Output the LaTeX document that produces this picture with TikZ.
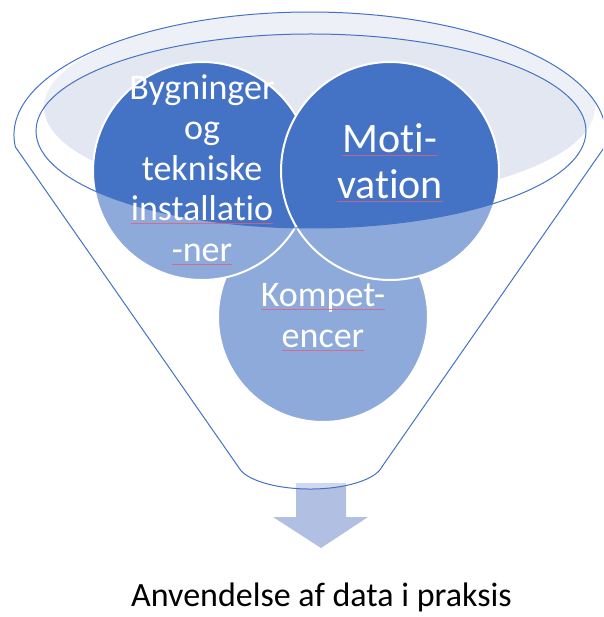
\documentclass[tikz,border=0pt]{standalone}
\usepackage{fontspec}
\setmainfont{Carlito}[Ligatures=NoCommon]
\definecolor{accent}{HTML}{4472C4}
\definecolor{rimfill}{HTML}{E2E7F2}
\definecolor{arrowfill}{HTML}{B0BFE2}
\definecolor{spellc}{HTML}{E0607A}
\begin{document}
\begin{tikzpicture}[x=1pt, y=-1pt,
  funnel/.style={insert path={(15.4,147) arc[start angle=174.4, end angle=365.6, x radius=296, y radius=123]
      -- (382,466.7) arc[start angle=10, end angle=170, x radius=73, y radius=27] -- cycle}},
  disc/.style={circle, fill=accent, draw=white, line width=2pt, minimum size=218pt, inner sep=0pt},
  rimline/.style={draw=accent, line width=1pt},
  word/.style={text=white, inner sep=0pt, anchor=base},
  wordL/.style={font=\fontsize{36}{40}\selectfont},
  wordM/.style={font=\fontsize{42}{46}\selectfont},
  spellmark/.style={draw=spellc, line width=0.8pt, draw opacity=0.8},
]
\useasboundingbox (0,0) rectangle (603,617);
\clip (0,0) rectangle (603,617);

% light inside of the funnel mouth
\begin{scope}
  \clip[funnel];
  \fill[rimfill] (319.5,107) ellipse [x radius=275.5, y radius=95];
\end{scope}

% output arrow below the funnel
\fill[arrowfill] (296,483) -- (346,483) -- (346,517) -- (368,517) -- (321,548)
  -- (273,517) -- (296,517) -- cycle;

% the three circles
\node[disc, minimum size=210pt] (k) at (323,317) {};
\node[disc] (b) at (202,171) {};
\node[disc] (m) at (390,171) {};

% translucent funnel body (everything except the opening)
\fill[white, fill opacity=0.4, even odd rule, funnel] (311,131) ellipse [x radius=275, y radius=97];

% funnel outlines
\draw[rimline, funnel];
\draw[rimline] (311,131) ellipse [x radius=275, y radius=97];

% circle labels
\node[word, wordL] (b1) at (202,99.5) {Bygninger};
\node[word, wordL] (b2) at (202,140) {og};
\node[word, wordL] (b3) at (202,180.5) {tekniske};
\node[word, wordL] (b4) at (202,221) {installatio};
\node[word, wordL] (b5) at (202,261.5) {-ner};
\node[word, wordM] (m1) at (390,153) {Moti-};
\node[word, wordM] (m2) at (390,199) {vation};
\node[word, wordL] (k1) at (323,306.5) {Kompet-};
\node[word, wordL] (k2) at (323,347.5) {encer};

\foreach \w in {b4,b5,m1,m2,k1,k2}
  \draw[spellmark] ([yshift=-2.5pt]\w.base west) -- ([yshift=-2.5pt]\w.base east);

% caption
\node[anchor=base, inner sep=0pt, font=\fontsize{34}{40}\selectfont] (cap) at (321.5,606.7)
  {Anvendelse af data i praksis};
\end{tikzpicture}
\end{document}
